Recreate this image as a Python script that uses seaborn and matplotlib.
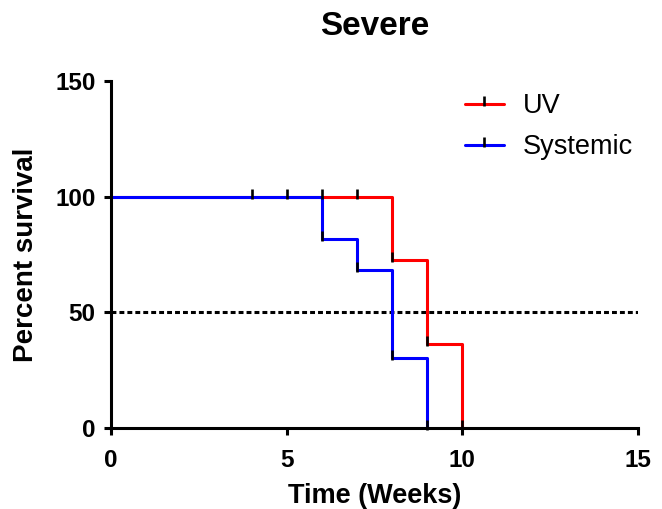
import numpy as np
import pandas as pd
import matplotlib
matplotlib.use("Agg")
import matplotlib.pyplot as plt
from matplotlib.path import Path
from matplotlib.lines import Line2D
import seaborn as sns

# Kaplan-Meier step curves (time in weeks, percent survival)
uv_times = [0, 8, 9, 10]
uv_surv = [100, 72.7, 36.4, 0]
sys_times = [0, 6, 7, 8, 9]
sys_surv = [100, 81.8, 68.2, 30.3, 0]

# tick symbols drawn on each curve (events and censored points)
uv_tick_times = [6, 7, 8, 9, 10]
uv_tick_surv = [100, 100, 72.7, 36.4, 0]
sys_tick_times = [4, 5, 6, 7, 8, 9]
sys_tick_surv = [100, 100, 81.8, 68.2, 30.3, 0]

groups = ["UV", "Systemic"]
colors = {"UV": "#ff0000", "Systemic": "#0000ff"}

x_ticks = [0, 5, 10, 15]
y_ticks = [0, 50, 100, 150]
median_line = 50

sns.set_theme(style="ticks")
plt.rcParams["font.family"] = ["Liberation Sans", "DejaVu Sans"]
plt.rcParams.update({"text.color": "black", "axes.labelcolor": "black",
                     "xtick.color": "black", "ytick.color": "black"})

curves = pd.concat([
    pd.DataFrame({"time": uv_times, "surv": uv_surv, "group": "UV"}),
    pd.DataFrame({"time": sys_times, "surv": sys_surv, "group": "Systemic"}),
])

fig = plt.figure(figsize=(6.62, 5.09), dpi=100)
ax = fig.add_axes([111 / 662, 1 - 428 / 509, 527 / 662, 347 / 509])

# dotted median reference line
ax.axhline(median_line, color="black", lw=2.2, dashes=(1.6, 1.0), zorder=1)

sns.lineplot(data=curves, x="time", y="surv", hue="group", hue_order=groups,
             palette=colors, drawstyle="steps-post", estimator=None,
             lw=2.2, legend=False, ax=ax, zorder=2)

# upward tick symbol anchored at the data point
tick_marker = Path([(0, -0.2), (0, 1.0)], [Path.MOVETO, Path.LINETO])
for t, s in [(uv_tick_times, uv_tick_surv), (sys_tick_times, sys_tick_surv)]:
    ax.plot(t, s, linestyle="none", marker=tick_marker, markersize=11.6,
            mec="black", mfc="none", mew=1.9, zorder=3, clip_on=False)

ax.set_xlim(0, 15)
ax.set_ylim(0, 150)
ax.set_xticks(x_ticks)
ax.set_yticks(y_ticks)
sns.despine(ax=ax)
for sp in ("left", "bottom"):
    ax.spines[sp].set_linewidth(2.2)
    ax.spines[sp].set_color("black")
ax.tick_params(axis="both", direction="out", length=5, width=2.2, color="black",
               labelsize=17.5)
ax.tick_params(axis="y", pad=6)
ax.tick_params(axis="x", pad=10)
for lab in ax.get_xticklabels() + ax.get_yticklabels():
    lab.set_fontweight("bold")

ax.set_xlabel("Time (Weeks)", fontsize=19.5, fontweight="bold", labelpad=8)
ax.set_ylabel("Percent survival", fontsize=20, fontweight="bold", labelpad=12)
ax.set_title("Severe", fontsize=24, fontweight="bold", pad=33)

handles = [
    Line2D([], [], color=colors[g], lw=2.2, marker=tick_marker, markersize=11.6,
           mec="black", mfc="none", mew=1.9)
    for g in groups
]
ax.legend(handles, groups, loc="upper left", bbox_to_anchor=(0.625, 1.035),
          frameon=False, fontsize=19.5, numpoints=1, handlelength=1.45,
          handletextpad=0.7, labelspacing=0.55)

fig.savefig("out.png", dpi=100)
